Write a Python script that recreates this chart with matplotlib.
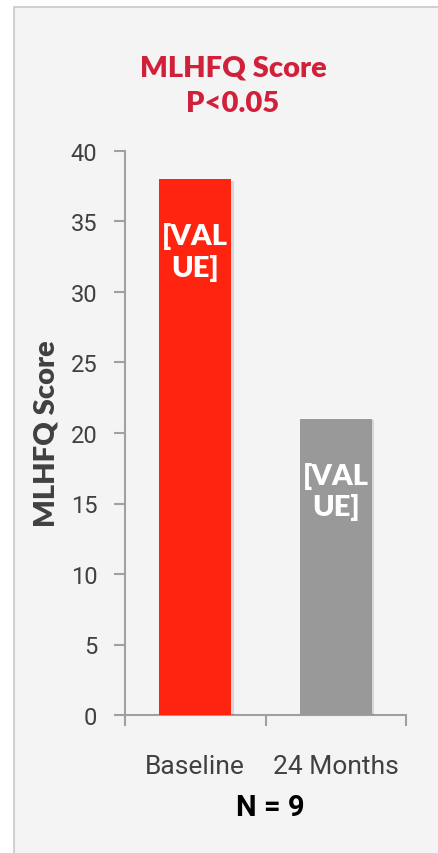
import matplotlib.pyplot as plt
from matplotlib.patches import Rectangle
import matplotlib.patheffects as pe

# MLHFQ score before and after treatment
groups = ["Baseline", "24 Months"]
scores = [38, 21]
bar_colors = ["#ff2410", "#999999"]
value_text = ["[VAL\nUE]", "[VAL\nUE]"]
y_ticks = [0, 5, 10, 15, 20, 25, 30, 35, 40]

narrow = ["Roboto", "DejaVu Sans"]
heavy = ["Lato", "DejaVu Sans"]

fig = plt.figure(figsize=(4.38, 8.54), dpi=100)
fig.patch.set_facecolor("white")

# light panel with a thin grey border behind the chart
fig.patches.append(Rectangle((14 / 438, -0.01), 1, 1.01 - 8 / 854, transform=fig.transFigure,
                             facecolor="#f4f4f4", edgecolor="#c8c8c8", linewidth=1.2,
                             zorder=-10))

ax = fig.add_axes([125 / 438, 1 - 716 / 854, (406 - 125) / 438, (716 - 152) / 854])
ax.set_facecolor("none")

x = [0, 1]
bars = ax.bar(x, scores, width=0.51, color=bar_colors, zorder=3)
for b in bars:
    b.set_path_effects([pe.SimplePatchShadow(offset=(2, -1), shadow_rgbFace="#000000", alpha=0.12),
                        pe.Normal()])

for xi, val, txt in zip(x, scores, value_text):
    ax.annotate(txt, (xi, val), xytext=(0, -52), textcoords="offset points",
                ha="center", va="center", color="white", fontsize=21, fontweight="heavy",
                family=heavy, linespacing=1.2, zorder=4)

ax.set_xlim(-0.5, 1.5)
ax.set_ylim(0, 40)
ax.set_yticks(y_ticks)
ax.set_xticks([-0.5, 0.5, 1.5])
ax.set_xticklabels([])
ax.set_xticks(x, minor=True)
ax.set_xticklabels(groups, minor=True)
ax.tick_params(axis="x", which="minor", length=0, pad=28, labelsize=19, labelcolor="#404040")
ax.tick_params(axis="x", which="major", length=8, direction="out", color="#a0a0a0", width=1.5)
ax.tick_params(axis="y", length=8, direction="out", color="#a0a0a0", width=1.5,
               labelsize=17, labelcolor="#404040", pad=12)
for lab in ax.get_xticklabels(minor=True) + ax.get_yticklabels():
    lab.set_family(narrow)

for s in ["top", "right"]:
    ax.spines[s].set_visible(False)
for s in ["left", "bottom"]:
    ax.spines[s].set_color("#a0a0a0")
    ax.spines[s].set_linewidth(1.5)

ax.set_ylabel("MLHFQ Score", fontsize=21, fontweight="heavy", color="#404040",
              family=heavy, labelpad=8)

fig.text(233 / 438, 1 - 68 / 854, "MLHFQ Score", ha="center", va="center",
         color="#d0203a", fontsize=21, fontweight="heavy", family=heavy)
fig.text(233 / 438, 1 - 104 / 854, "P<0.05", ha="center", va="center",
         color="#d0203a", fontsize=21, fontweight="heavy", family=heavy)
fig.text(270 / 438, 1 - 808 / 854, "N = 9", ha="center", va="center",
         color="black", fontsize=21, fontweight="bold", family=narrow)

fig.savefig("out.png", dpi=100, facecolor=fig.get_facecolor())
